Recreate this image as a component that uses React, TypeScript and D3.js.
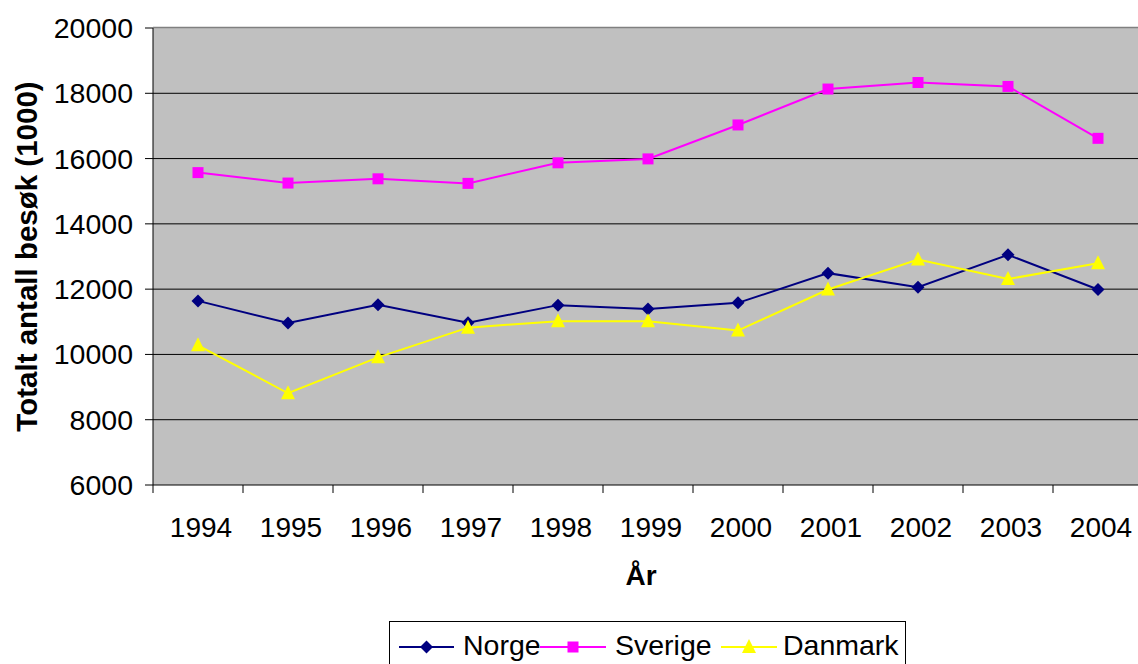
import React from "react";
import * as d3 from "d3";

const years = ["1994","1995","1996","1997","1998","1999","2000","2001","2002","2003","2004"];
const norge = [11640,10960,11520,10970,11510,11390,11580,12490,12060,13050,11990];
const sverige = [15570,15250,15380,15240,15870,15990,17030,18130,18330,18210,16620];
const danmark = [10280,8810,9910,10820,11020,11020,10730,11990,12910,12310,12790];
const yTicks = [6000,8000,10000,12000,14000,16000,18000,20000];

const seriesList = [
  { name: "Norge", values: norge, color: "#000080", marker: "diamond" },
  { name: "Sverige", values: sverige, color: "#FF00FF", marker: "square" },
  { name: "Danmark", values: danmark, color: "#FFFF00", marker: "triangle" },
];

const W = 1138, H = 664;
const left = 153, right = 1143, top = 28, bottom = 485;
const FONT = "'Liberation Sans', Arial, sans-serif";

function Marker({ type, x, y, color }: { type: string; x: number; y: number; color: string }) {
  if (type === "diamond") {
    const r = 6.5;
    return <path d={`M${x},${y - r}L${x + r},${y}L${x},${y + r}L${x - r},${y}Z`} fill={color} />;
  }
  if (type === "square") {
    const s = 11;
    return <rect x={x - s / 2} y={y - s / 2} width={s} height={s} fill={color} />;
  }
  const r = 7;
  return <path d={`M${x},${y - r - 1}L${x + r},${y + r - 1}L${x - r},${y + r - 1}Z`} fill={color} />;
}

export default function App() {
  const x = d3.scaleBand<string>().domain(years).range([left, right]);
  const y = d3.scaleLinear().domain([6000, 20000]).range([bottom, top]);
  const cx = (yr: string) => (x(yr) as number) + x.bandwidth() / 2;
  const line = d3.line<number>().x((_, i) => cx(years[i])).y((v) => y(v));

  const legendItems = [
    { lx1: 399, lx2: 454, tx: 463 },
    { lx1: 540, lx2: 606, tx: 615 },
    { lx1: 721, lx2: 777, tx: 783 },
  ];

  return (
    <svg width={W} height={H} style={{ position: "absolute", left: 0, top: 0, fontFamily: FONT }}>
      <rect x={0} y={0} width={W} height={H} fill="#fff" />
      <rect x={left} y={top} width={right - left} height={bottom - top} fill="#C0C0C0" />
      <line x1={left} x2={right} y1={top - 0.5} y2={top - 0.5} stroke="#808080" strokeWidth={1.5} />
      {yTicks.map((t) => (
        <g key={t}>
          {t !== 6000 && t !== 20000 && (
            <line x1={left} x2={right} y1={y(t)} y2={y(t)} stroke="#000" strokeWidth={1} />
          )}
          <line x1={left - 8} x2={left} y1={y(t)} y2={y(t)} stroke="#000" strokeWidth={1} />
          <text x={133} y={y(t) + 10} textAnchor="end" fontSize={28.5} fill="#000">{t}</text>
        </g>
      ))}
      <line x1={left} x2={left} y1={top} y2={bottom + 8} stroke="#000" strokeWidth={1} />
      <line x1={left} x2={right} y1={bottom} y2={bottom} stroke="#000" strokeWidth={1} />
      {years.map((yr) => (
        <g key={yr}>
          <line x1={(x(yr) as number) + x.bandwidth()} x2={(x(yr) as number) + x.bandwidth()} y1={bottom} y2={bottom + 8} stroke="#000" />
          <text x={cx(yr) + 3} y={537} textAnchor="middle" fontSize={28} fill="#000">{yr}</text>
        </g>
      ))}
      {seriesList.map((s) => (
        <g key={s.name}>
          <path d={line(s.values) || ""} fill="none" stroke={s.color} strokeWidth={2} />
          {s.values.map((v, i) => (
            <Marker key={i} type={s.marker} x={cx(years[i])} y={y(v)} color={s.color} />
          ))}
        </g>
      ))}
      <text x={641} y={585} textAnchor="middle" fontSize={28} fontWeight="bold" fill="#000">År</text>
      <text transform={`translate(37,${(top + bottom) / 2}) rotate(-90)`} textAnchor="middle" fontSize={29.5} fontWeight="bold" fill="#000">
        Totalt antall besøk (1000)
      </text>
      <rect x={389.5} y={621.5} width={516} height={50} fill="#fff" stroke="#000" strokeWidth={1} />
      {seriesList.map((s, i) => {
        const it = legendItems[i];
        const my = 647;
        return (
          <g key={s.name}>
            <line x1={it.lx1} x2={it.lx2} y1={my} y2={my} stroke={s.color} strokeWidth={2} />
            <Marker type={s.marker} x={(it.lx1 + it.lx2) / 2} y={my} color={s.color} />
            <text x={it.tx} y={655} fontSize={28.5} fill="#000">{s.name}</text>
          </g>
        );
      })}
    </svg>
  );
}
